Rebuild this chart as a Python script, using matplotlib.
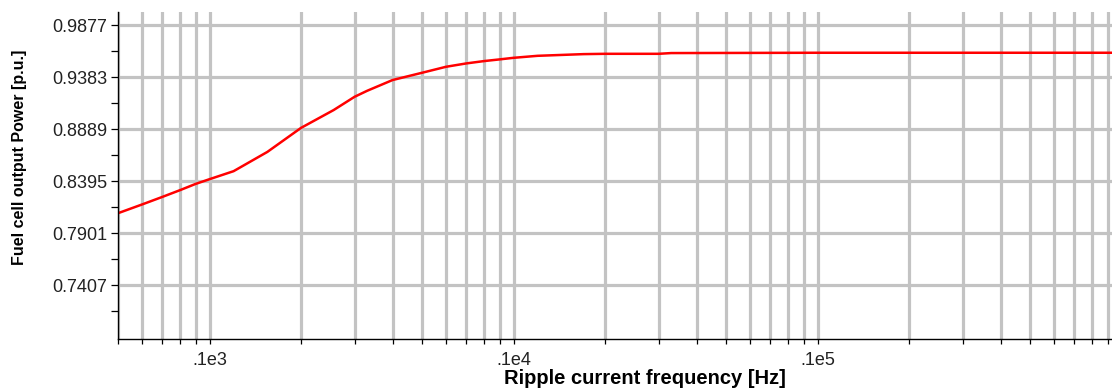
import matplotlib.pyplot as plt
import numpy as np
from matplotlib.ticker import LogLocator, FixedLocator, FuncFormatter, NullFormatter

plt.rcParams["font.family"] = ["Liberation Sans", "DejaVu Sans"]

# ripple current frequency [Hz] vs fuel cell output power [p.u.]
freq = [500, 600, 700, 800, 900, 1000, 1200, 1550, 2000, 2560, 3000, 3300,
        4000, 5000, 6000, 7000, 8000, 9000, 10000, 12000, 17000, 20000,
        30000, 33000, 100000, 930000]
power = [0.8091, 0.8174, 0.8246, 0.8310, 0.8369, 0.8414, 0.8490, 0.8673,
         0.8901, 0.9070, 0.9196, 0.9253, 0.9355, 0.9424, 0.9481, 0.9513,
         0.9535, 0.9551, 0.9566, 0.9585, 0.9601, 0.9604, 0.9604, 0.9611,
         0.9614, 0.9614]

y_ticks = [0.7407, 0.7901, 0.8395, 0.8889, 0.9383, 0.9877]
x_labels = {1e3: ".1e3", 1e4: ".1e4", 1e5: ".1e5"}

grid_col = "#c3c3c3"

fig = plt.figure(figsize=(11.12, 3.89), dpi=100)
ax = fig.add_axes([118 / 1112, 1 - 339 / 389, 1 - 118 / 1112, (339 - 12.3) / 389])

ax.plot(freq, power, color="#ff0000", lw=1.8, zorder=3)

ax.set_xscale("log")
ax.set_xlim(500, 9.3e5)
ax.set_ylim(0.6897, 0.9998)

# x: ticks at every 1..9 x 10^k, labels only on decades
ax.xaxis.set_major_locator(LogLocator(base=10, subs=np.arange(1, 10), numticks=50))
ax.xaxis.set_minor_locator(FixedLocator([]))
ax.xaxis.set_major_formatter(FuncFormatter(
    lambda v, p: next((s for k, s in x_labels.items() if abs(v - k) / k < 1e-6), "")))
ax.xaxis.set_minor_formatter(NullFormatter())

ax.yaxis.set_major_locator(FixedLocator(y_ticks))
ax.yaxis.set_minor_locator(FixedLocator([t + 0.0247 for t in y_ticks] + [y_ticks[0] - 0.0247]))
ax.set_yticklabels([f"{t:.4f}" for t in y_ticks])

ax.grid(True, which="major", axis="both", color=grid_col, lw=2.3, zorder=0)
ax.set_axisbelow(True)

for s in ("top", "right"):
    ax.spines[s].set_visible(False)
for s in ("left", "bottom"):
    ax.spines[s].set_color("black")
    ax.spines[s].set_linewidth(1.0)
    ax.spines[s].set_zorder(4)

ax.tick_params(axis="y", which="both", direction="out", length=5, width=0.9,
               labelsize=13, pad=3, colors="black", labelcolor="#222222")
ax.tick_params(axis="x", which="both", direction="out", length=3.5, width=0.9,
               labelsize=13, pad=6, colors="black", labelcolor="#222222")

ax.set_xlabel("Ripple current frequency [Hz]", fontsize=14.5, fontweight="bold")
ax.xaxis.set_label_coords(0.53, -0.092)
ax.set_ylabel("Fuel cell output Power [p.u.]", fontsize=11.5, fontweight="bold")
ax.yaxis.set_label_coords(-0.092, 0.557)

fig.savefig("out.png", dpi=100)
